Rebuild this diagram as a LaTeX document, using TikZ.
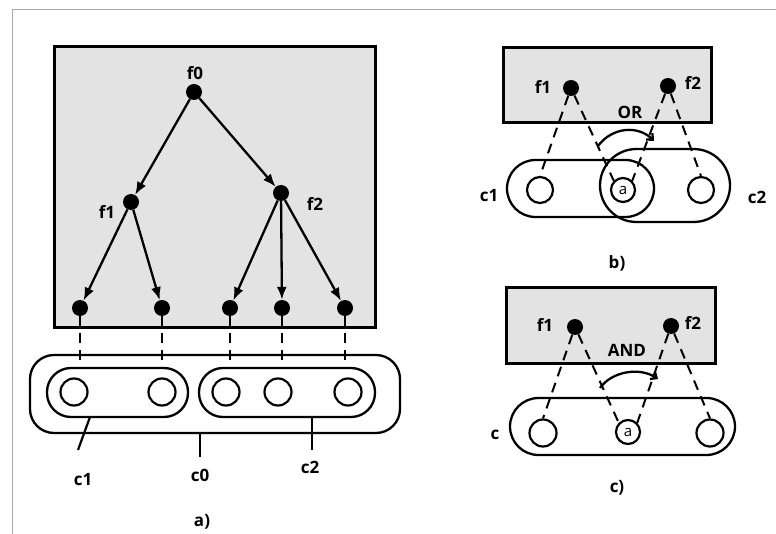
\documentclass[tikz,border=0pt]{standalone}
\usepackage{fontspec}
\setmainfont{Open Sans}
\usetikzlibrary{arrows.meta}
\begin{document}
\begin{tikzpicture}[x=1pt,y=-1pt,
  dot/.style={circle,fill=black,inner sep=0pt,minimum size=16pt},
  lab/.style={inner sep=0pt,font=\fontsize{17}{17}\selectfont\bfseries},
  panel/.style={draw=black,line width=3pt,fill=gray!22},
  arr/.style={line width=2.3pt,-{Latex[length=13pt,width=10pt]}},
  dsh/.style={line width=2pt,dash pattern=on 10pt off 7pt},
  oval/.style={draw,line width=2.3pt,inner sep=0pt},
  ring/.style={circle,draw,line width=2.2pt,inner sep=0pt},
  lead/.style={line width=2.2pt},
  arcarr/.style={line width=2.3pt,-{Straight Barb[length=5pt,width=9pt]}}
]
\useasboundingbox (0,0) rectangle (776,534);
% frame
\draw[gray!70,line width=1.2pt] (12.5,534) -- (12.5,9.5) -- (776,9.5);

% ---------------- panel a ----------------
\draw[panel] (54,47) rectangle (375,328);
\node[dot] (f0) at (194,92) {};
\node[dot] (f1) at (131,202) {};
\node[dot] (f2) at (281,193) {};
\node[dot] (l1) at (80,308) {};
\node[dot] (l2) at (162,308) {};
\node[dot] (l3) at (230,308) {};
\node[dot] (l4) at (282,308) {};
\node[dot] (l5) at (345,308) {};
\node[lab] (tf0) at (195,73) {f0};
\node[lab] (tf1) at (107,212) {f1};
\node[lab] (tf2) at (315,204) {f2};
\draw[arr] (f0) -- (f1);
\draw[arr] (f0) -- (f2);
\draw[arr] (f1) -- (l1);
\draw[arr] (f1) -- (l2);
\draw[arr] (f2) -- (l3);
\draw[arr] (f2) -- (l4);
\draw[arr] (f2) -- (l5);

\node[oval,rounded corners=24pt,minimum width=370pt,minimum height=78pt] (c0) at (215,394) {};
\node[oval,rounded corners=24pt,minimum width=141pt,minimum height=49pt] (c1) at (117.5,392.5) {};
\node[oval,rounded corners=24pt,minimum width=176pt,minimum height=49pt] (c2) at (287,392.5) {};
\node[ring,minimum size=27pt] (r1) at (74,392) {};
\node[ring,minimum size=27pt] (r2) at (162,392) {};
\node[ring,minimum size=27pt] (r3) at (226,392) {};
\node[ring,minimum size=27pt] (r4) at (278,392) {};
\node[ring,minimum size=27pt] (r5) at (348,392) {};
\draw[dsh] (l1) -- (l1 |- c1.north);
\draw[dsh] (l2) -- (l2 |- c1.north);
\draw[dsh] (l3) -- (l3 |- c2.north);
\draw[dsh] (l4) -- (l4 |- c2.north);
\draw[dsh] (l5) -- (l5 |- c2.north);

\coordinate (k1a) at (90,417);
\coordinate (k1b) at (78,450);
\coordinate (k0b) at (200,457);
\coordinate (k2b) at (312,450);
\draw[lead] (k1a) -- (k1b);
\draw[lead] (c0.south -| k0b) -- (k0b);
\draw[lead] (c2.south -| k2b) -- (k2b);
\node[lab] (tc1) at (83,480) {c1};
\node[lab] (tc0) at (200,475) {c0};
\node[lab] (tc2) at (310,467) {c2};
\node[lab] (ta) at (202,522) {a)};

% ---------------- panel b ----------------
\draw[panel] (503,48) rectangle (711,123);
\node[dot] (bf1) at (571,88) {};
\node[dot] (bf2) at (668,86) {};
\node[lab] (tbf1) at (543,87) {f1};
\node[lab] (tbf2) at (693,83) {f2};
\node[lab] (tor) at (630,112) {OR};
\node[oval,rounded corners=28.5pt,minimum width=147pt,minimum height=57pt] (bc1) at (580.5,188.5) {};
\node[oval,rounded corners=36.5pt,minimum width=130pt,minimum height=73pt] (bc2) at (665,185.5) {};
\node[ring,minimum size=26pt] (br1) at (540,190) {};
\node[ring,minimum size=24pt,font=\fontsize{15}{15}\selectfont] (bra) at (623,190) {a};
\node[ring,minimum size=26pt] (br3) at (701,190) {};
\draw[dsh] (bf1) -- (br1.north);
\draw[dsh] (bf1) -- (bra.north west);
\draw[dsh] (bf2) -- (bra.north east);
\draw[dsh] (bf2) -- (br3.north);
\coordinate (bo1) at (598,146);
\coordinate (bo2) at (654,141);
\draw[arcarr] (bo1) .. controls (612,127) and (638,125) .. (bo2);
\node[lab] (tbc1) at (489,196) {c1};
\node[lab] (tbc2) at (757,197) {c2};
\node[lab] (tb) at (617,263) {b)};

% ---------------- panel c ----------------
\draw[panel] (506,288) rectangle (715,363);
\node[dot] (cf1) at (575,327) {};
\node[dot] (cf2) at (671,326) {};
\node[lab] (tcf1) at (545,325) {f1};
\node[lab] (tcf2) at (693,323) {f2};
\node[lab] (tand) at (627,350) {AND};
\node[oval,rounded corners=28.5pt,minimum width=225pt,minimum height=57pt] (cc) at (622.5,426.5) {};
\node[ring,minimum size=27pt] (cr1) at (543,433) {};
\node[ring,minimum size=24pt,font=\fontsize{15}{15}\selectfont] (cra) at (628,432) {a};
\node[ring,minimum size=27pt] (cr3) at (710,433) {};
\draw[dsh] (cf1) -- (cr1.north);
\draw[dsh] (cf1) -- (cra.north west);
\draw[dsh] (cf2) -- (cra.north east);
\draw[dsh] (cf2) -- (cr3.north);
\coordinate (co1) at (600,388);
\coordinate (co2) at (658,379);
\draw[arcarr] (co1) .. controls (612,371) and (640,367) .. (co2);
\node[lab] (tcc) at (495,435) {c};
\node[lab] (tc) at (617,488) {c)};
\end{tikzpicture}
\end{document}
